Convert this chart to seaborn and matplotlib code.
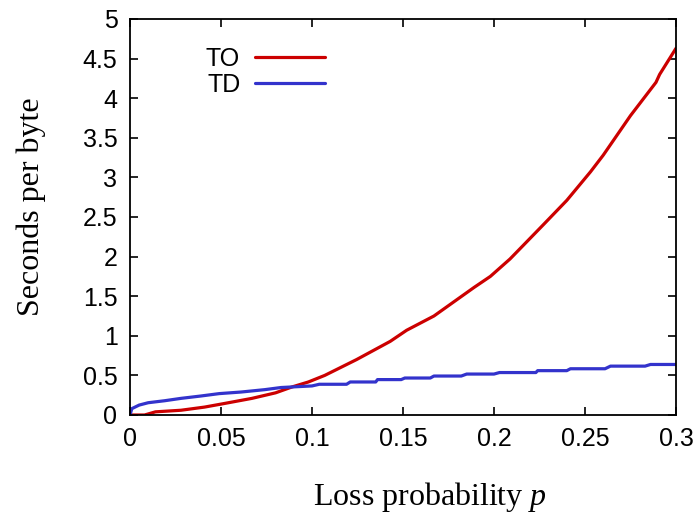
import matplotlib
matplotlib.use("Agg")
import matplotlib.pyplot as plt
import seaborn as sns
import pandas as pd

# TO series (loss probability p, seconds per byte)
to_p = [0.0, 0.008, 0.014, 0.028, 0.041, 0.052, 0.067, 0.080, 0.089, 0.098,
        0.107, 0.1245, 0.143, 0.152, 0.167, 0.189, 0.198, 0.2088, 0.216, 0.227,
        0.240, 0.253, 0.260, 0.275, 0.289, 0.291, 0.300]
to_v = [0.0, 0.0, 0.04, 0.06, 0.10, 0.146, 0.21, 0.28, 0.354, 0.417,
        0.50, 0.70, 0.93, 1.07, 1.25, 1.61, 1.75, 1.97, 2.14, 2.40,
        2.71, 3.07, 3.28, 3.78, 4.20, 4.30, 4.63]

# TD series
td_p = [0.0, 0.001, 0.005, 0.010, 0.019, 0.028, 0.039, 0.049, 0.061, 0.074,
        0.083, 0.100, 0.104, 0.119, 0.121, 0.135, 0.136, 0.149, 0.151, 0.165,
        0.167, 0.182, 0.185, 0.200, 0.203, 0.223, 0.224, 0.240, 0.242, 0.261,
        0.264, 0.283, 0.286, 0.300]
td_v = [0.0, 0.08, 0.125, 0.155, 0.18, 0.21, 0.24, 0.27, 0.29, 0.32,
        0.347, 0.367, 0.388, 0.388, 0.417, 0.417, 0.447, 0.447, 0.467, 0.467,
        0.492, 0.492, 0.517, 0.517, 0.536, 0.536, 0.56, 0.56, 0.584, 0.584,
        0.617, 0.617, 0.638, 0.638]

series_names = ["TO", "TD"]
x_ticks = [0, 0.05, 0.1, 0.15, 0.2, 0.25, 0.3]
x_tick_labels = ["0", "0.05", "0.1", "0.15", "0.2", "0.25", "0.3"]
y_ticks = [0, 0.5, 1, 1.5, 2, 2.5, 3, 3.5, 4, 4.5, 5]
y_tick_labels = ["0", "0.5", "1", "1.5", "2", "2.5", "3", "3.5", "4", "4.5", "5"]

df = pd.concat([
    pd.DataFrame({"p": to_p, "v": to_v, "series": "TO"}),
    pd.DataFrame({"p": td_p, "v": td_v, "series": "TD"}),
], ignore_index=True)

sns.set_theme(style="white")
plt.rcParams["font.family"] = ["Liberation Sans", "DejaVu Sans"]
plt.rcParams["text.color"] = "black"
plt.rcParams["axes.labelcolor"] = "black"
plt.rcParams["xtick.color"] = "black"
plt.rcParams["ytick.color"] = "black"
plt.rcParams["mathtext.fontset"] = "custom"
plt.rcParams["mathtext.it"] = "Liberation Serif:italic"
plt.rcParams["mathtext.rm"] = "Liberation Serif"

fig = plt.figure(figsize=(6.97, 5.16), dpi=100)
ax = fig.add_axes([130 / 697, 1 - 415 / 516, 546 / 697, (415 - 19) / 516])

sns.lineplot(data=df, x="p", y="v", hue="series", hue_order=series_names,
             palette={"TO": "#cc0000", "TD": "#3333cc"}, sort=False,
             estimator=None, linewidth=2.3, ax=ax)

ax.set_xlim(0, 0.3)
ax.set_ylim(0, 5)
ax.set_xticks(x_ticks)
ax.set_xticklabels(x_tick_labels)
ax.set_yticks(y_ticks)
ax.set_yticklabels(y_tick_labels)
ax.tick_params(direction="in", length=6, width=1.2, labelsize=18, color="black",
               labelcolor="black", top=True, right=True, bottom=True, left=True, pad=9)
for s in ax.spines.values():
    s.set_visible(True)
    s.set_color("black")
    s.set_linewidth(1.3)

ax.set_xlabel("Loss probability $p$", fontsize=23, family="Liberation Serif",
              color="black")
ax.set_ylabel("Seconds per byte", fontsize=23, family="Liberation Serif",
              color="black")
ax.xaxis.set_label_coords(0.549, -0.165)
ax.yaxis.set_label_coords(-0.153, 0.525)

leg = ax.legend(frameon=False, markerfirst=False, fontsize=18, handlelength=2.8,
                handletextpad=0.6, labelspacing=0.08, loc="upper left",
                bbox_to_anchor=(206 / 697, 1 - 47 / 516), bbox_transform=fig.transFigure,
                borderpad=0, borderaxespad=0)
for t in leg.get_texts():
    t.set_color("black")
for h in leg.get_lines():
    h.set_linewidth(2.3)

fig.savefig("out.png", dpi=100)
